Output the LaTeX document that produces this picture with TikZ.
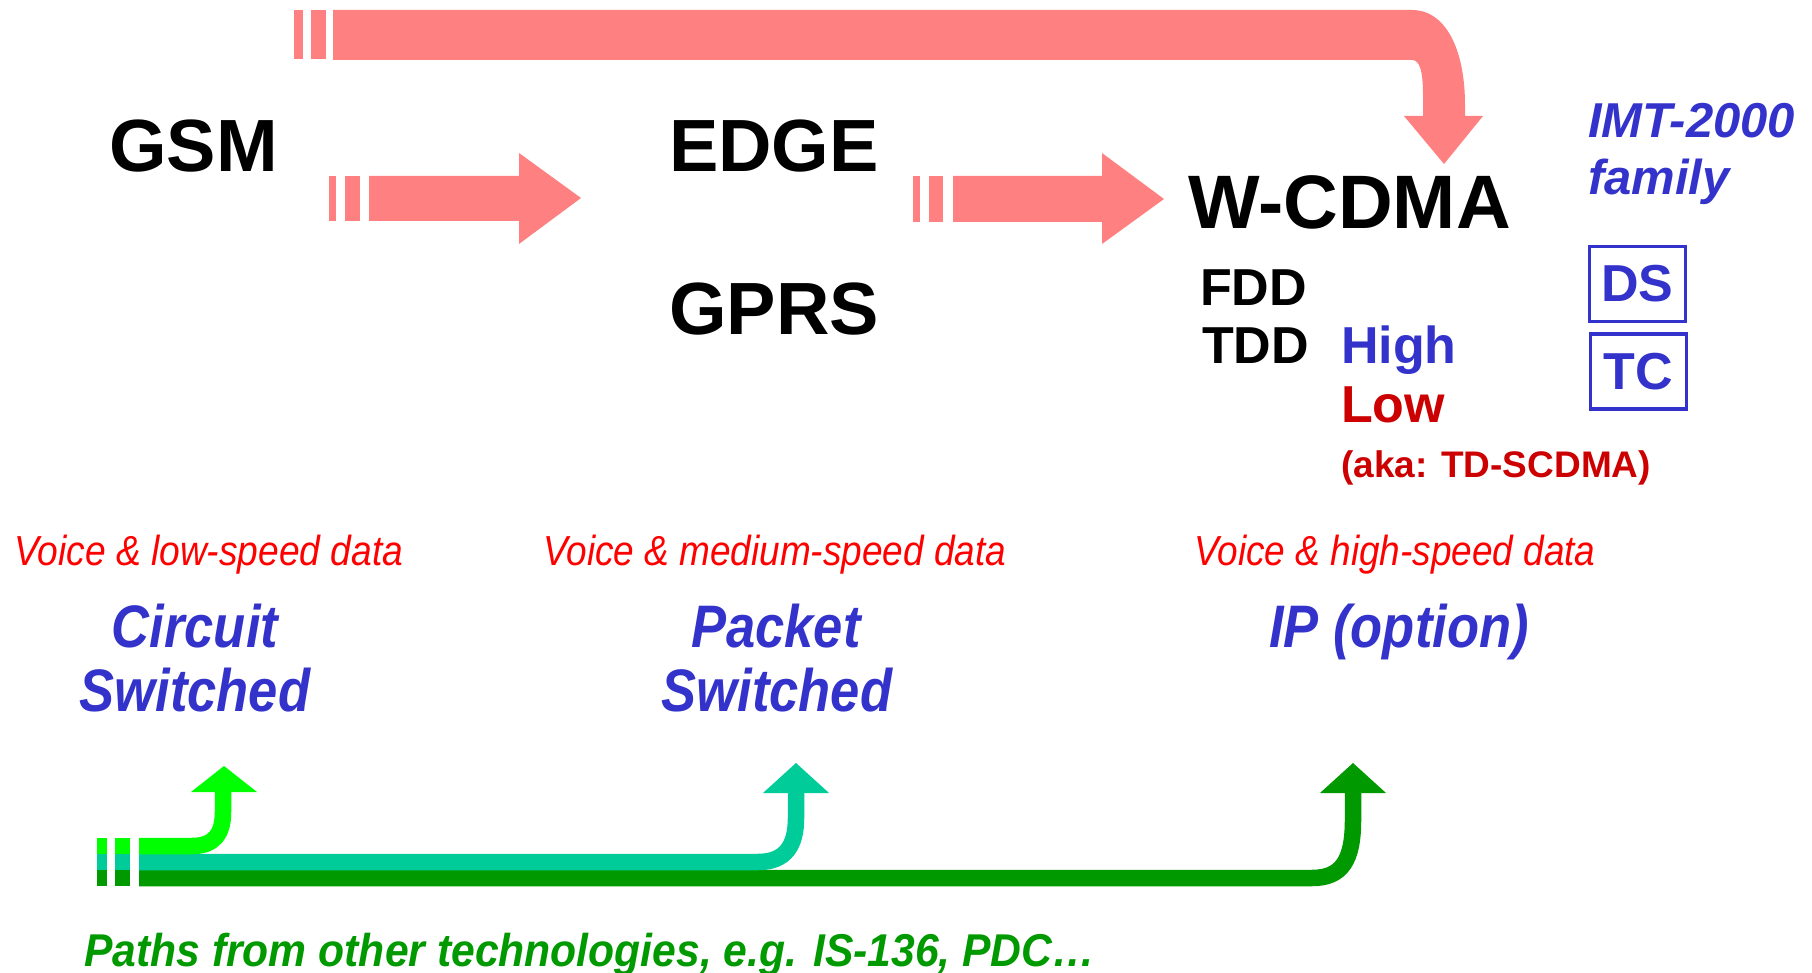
\documentclass[tikz,border=0pt]{standalone}
\usepackage{fontspec}
\usepackage{graphicx}
\setmainfont{Liberation Sans}
\definecolor{arrowred}{HTML}{FF8080}
\definecolor{techblue}{HTML}{3333CC}
\definecolor{voicered}{HTML}{FF0000}
\definecolor{darkred}{HTML}{CC0000}
\definecolor{gA}{HTML}{00FF00}
\definecolor{gB}{HTML}{00CC99}
\definecolor{gC}{HTML}{009900}
\newcommand\fsz[1]{\fontsize{#1}{#1}\selectfont}
\newcommand\cond[2]{\scalebox{#1}[1]{#2}}
\begin{document}
\begin{tikzpicture}[x=1pt,y=-1pt,
  txt/.style={inner sep=0pt, anchor=base west},
  ctxt/.style={inner sep=0pt, anchor=base},
  big/.style={txt, font=\fsz{#1}\bfseries},
  voice/.style={txt, font=\fsz{42}\itshape, text=voicered},
  mode/.style={ctxt, font=\fsz{60}\bfseries\itshape, text=techblue},
  boxlbl/.style={draw=techblue, line width=3.5pt, text=techblue, font=\fsz{52}\bfseries,
     minimum width=96pt, minimum height=75pt, inner sep=0pt},
  greenline/.style={line width=16.5pt, line cap=butt}
]
\useasboundingbox (0,0) rectangle (1812,973);
\fill[white] (0,0) rectangle (1812,973);

% ---------- top arrow GSM -> W-CDMA ----------
\fill[arrowred] (294,10) rectangle (303,59);
\fill[arrowred] (311,10) rectangle (326,59);
\fill[arrowred] (333,10) -- (1412,10) .. controls (1446,10) and (1465,50) .. (1465,105)
  -- (1465,116) -- (1483,116) -- (1444,164) -- (1404,116) -- (1423,116) -- (1423,95)
  .. controls (1423,72) and (1420,60) .. (1412,60) -- (333,60) -- cycle;

% ---------- GSM -> EDGE arrow ----------
\fill[arrowred] (329,176) rectangle (336,221);
\fill[arrowred] (345,176) rectangle (360,221);
\fill[arrowred] (369,176) -- (519,176) -- (519,153) -- (581,198) -- (519,244) -- (519,221) -- (369,221) -- cycle;

% ---------- EDGE -> W-CDMA arrow ----------
\fill[arrowred] (913,176) rectangle (920,222);
\fill[arrowred] (929,176) rectangle (943,222);
\fill[arrowred] (953,176) -- (1102,176) -- (1102,153) -- (1164,199) -- (1102,244) -- (1102,222) -- (953,222) -- cycle;

% ---------- main labels ----------
\node[big=74] (gsm) at (109,172) {GSM};
\node[big=74] (edge) at (669,172) {EDGE};
\node[big=74] (gprs) at (669,335) {GPRS};
\node[big=75.8] (wcdma) at (1188,229) {W-CDMA};
\node[big=52] (fdd) at (1200,306) {FDD};
\node[big=52] (tdd) at (1202,363) {TDD};
\node[big=52, text=techblue] (high) at (1341,363) {High};
\node[big=52, text=darkred] (low) at (1341,422) {Low};
\node[big=37, text=darkred] (aka) at (1341,477) {(aka: TD-SCDMA)};
\node[txt, font=\fsz{49}\bfseries\itshape, text=techblue] (imt) at (1588,138) {IMT-2000};
\node[txt, font=\fsz{49}\bfseries\itshape, text=techblue] (family) at (1588,195) {family};
\node[boxlbl] (ds) at (1637.5,284) {DS};
\node[boxlbl] (tc) at (1638.5,371.5) {TC};

% ---------- voice / data labels ----------
\node[voice] (v1) at (14,565) {\cond{0.885}{Voice \& low-speed data}};
\node[voice] (v2) at (543,565) {\cond{0.88}{Voice \& medium-speed data}};
\node[voice] (v3) at (1194,565) {\cond{0.88}{Voice \& high-speed data}};

\node[mode] (circ) at (195,647) {\cond{0.875}{Circuit}};
\node[mode] (circsw) at (195,711) {\cond{0.875}{Switched}};
\node[mode] (pack) at (776,647) {\cond{0.875}{Packet}};
\node[mode] (packsw) at (777,711) {\cond{0.875}{Switched}};
\node[mode] (ip) at (1399,647) {\cond{0.875}{IP (option)}};

% ---------- green paths ----------
% dark green
\fill[gC] (97,870) rectangle (107,886);
\fill[gC] (115,870) rectangle (130,886);
\draw[gC, greenline] (139,878) -- (1312,878) .. controls (1342,878) and (1353,860) .. (1353,820) -- (1353,792);
\fill[gC] (1320,793) -- (1353,763) -- (1386,793) -- cycle;
% teal
\fill[gB] (97,854) rectangle (107,870);
\fill[gB] (115,854) rectangle (130,870);
\draw[gB, greenline] (139,862) -- (758,862) .. controls (786,862) and (796,845) .. (796,818) -- (796,792);
\fill[gB] (763,793) -- (796,763) -- (829,793) -- cycle;
% light green
\fill[gA] (97,838) rectangle (107,854);
\fill[gA] (115,838) rectangle (130,854);
\draw[gA, greenline] (139,846) -- (192,846) .. controls (214,846) and (223,834) .. (223,812) -- (223,791);
\fill[gA] (191,792) -- (224,766) -- (257,792) -- cycle;

\node[txt, font=\fsz{46}\bfseries\itshape, text=gC] (paths) at (84,966)
  {\cond{0.927}{Paths from other technologies, e.g. IS-136, PDC…}};
\end{tikzpicture}
\end{document}
